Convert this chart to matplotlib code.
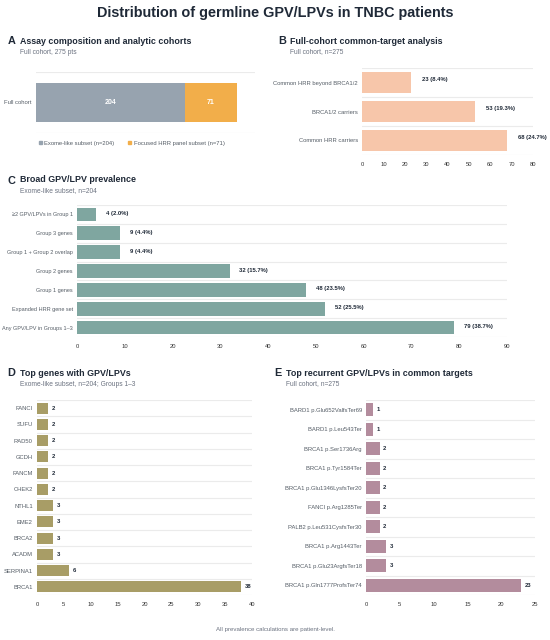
import matplotlib
matplotlib.use("Agg")
import matplotlib.pyplot as plt
from matplotlib.patches import Patch

plt.rcParams['font.family'] = ['Liberation Sans', 'DejaVu Sans']

# panel A
cohortLabel = ["Full cohort"]
exomeN = [204]
panelN = [71]

# panel B
bLabels = ["Common HRR carriers", "BRCA1/2 carriers", "Common HRR beyond BRCA1/2"]
bValues = [68, 53, 23]
bPct = [24.7, 19.3, 8.4]

# panel C
cLabels = ["Any GPV/LPV in Groups 1\u20133", "Expanded HRR gene set", "Group 1 genes",
           "Group 2 genes", "Group 1 + Group 2 overlap", "Group 3 genes",
           "\u22652 GPV/LPVs in Group 1"]
cValues = [79, 52, 48, 32, 9, 9, 4]
cPct = [38.7, 25.5, 23.5, 15.7, 4.4, 4.4, 2.0]

# panel D
dGenes = ["BRCA1", "SERPINA1", "ACADM", "BRCA2", "EME2", "NTHL1",
          "CHEK2", "FANCM", "GCDH", "RAD50", "SUFU", "FANCI"]
dValues = [38, 6, 3, 3, 3, 3, 2, 2, 2, 2, 2, 2]

# panel E
eVariants = ["BRCA1 p.Gln1777ProfsTer74", "BRCA1 p.Glu23ArgfsTer18", "BRCA1 p.Arg1443Ter",
             "PALB2 p.Leu531CysfsTer30", "FANCI p.Arg1285Ter", "BRCA1 p.Glu1346LysfsTer20",
             "BRCA1 p.Tyr1584Ter", "BRCA1 p.Ser1736Arg", "BARD1 p.Leu543Ter",
             "BARD1 p.Glu652ValfsTer69"]
eValues = [23, 3, 3, 2, 2, 2, 2, 2, 1, 1]

GREY_TXT = "#555d66"
DARK = "#1f2937"
GRID = "#ebebeb"
TICK = 4.2
VAL = 4.2

W, H = 550.0, 640.0


def px(x, y):
    return x / W, 1 - y / H


def axRect(l, t, r, b):
    return [l / W, 1 - b / H, (r - l) / W, (b - t) / H]


def styleAx(ax, n, xmax, ticks):
    ax.set_xlim(0, xmax)
    ax.set_ylim(-0.5, n - 0.5)
    for s in ax.spines.values():
        s.set_visible(False)
    for i in range(n + 1):
        ax.axhline(i - 0.5, color=GRID, lw=0.8, zorder=0)
    ax.set_xticks(ticks)
    ax.tick_params(axis='both', length=0, labelsize=TICK, colors=GREY_TXT, pad=3)
    ax.tick_params(axis='x', labelcolor="#333333", pad=5)


def header(x, y, letter, title, sub):
    fig.text(*px(x, y + 0.5), letter, fontsize=7.8, fontweight='bold', color=DARK, va='center')
    fig.text(*px(x + 12.5, y), title, fontsize=6.4, fontweight='bold', color=DARK, va='center')
    fig.text(*px(x + 12.5, y + 11), sub, fontsize=4.8, color="#6b7280", va='center')


fig = plt.figure(figsize=(5.5, 6.4), dpi=100)
fig.text(0.5, 1 - 13 / H, "Distribution of germline GPV/LPVs in TNBC patients",
         ha='center', va='center', fontsize=10.4, fontweight='bold', color=DARK)

# A
axA = fig.add_axes(axRect(36, 72, 255, 133))
axA.barh(cohortLabel, exomeN, height=0.65, color="#97a3af")
axA.barh(cohortLabel, panelN, left=exomeN, height=0.65, color="#f2ae4a")
axA.text(exomeN[0] / 2, 0, str(exomeN[0]), ha='center', va='center', color='white',
         fontsize=5, fontweight='bold')
axA.text(exomeN[0] + panelN[0] / 2, 0, str(panelN[0]), ha='center', va='center',
         color='white', fontsize=5, fontweight='bold')
axA.set_xlim(0, 300)
axA.set_ylim(-0.5, 0.5)
for s in axA.spines.values():
    s.set_visible(False)
axA.axhline(0.5, color=GRID, lw=0.8)
axA.axhline(-0.5, color=GRID, lw=0.8)
axA.set_xticks([])
axA.tick_params(axis='y', length=0, labelsize=TICK, colors=GREY_TXT, pad=3)
axA.legend(handles=[Patch(color="#97a3af", label="Exome-like subset (n=204)"),
                    Patch(color="#f2ae4a", label="Focused HRR panel subset (n=71)")],
           loc='upper left', bbox_to_anchor=(-0.01, -0.04), ncol=2, frameon=False,
           fontsize=TICK, handlelength=0.5, handleheight=0.5, handletextpad=0.4,
           columnspacing=2.4, labelcolor=GREY_TXT)
header(8, 41, "A", "Assay composition and analytic cohorts", "Full cohort, 275 pts")

# B
axB = fig.add_axes(axRect(362, 68, 533, 155))
yB = range(len(bLabels))
axB.barh(yB, bValues, height=0.72, color="#f7c6aa")
axB.set_yticks(list(yB), bLabels)
for i, (v, p) in enumerate(zip(bValues, bPct)):
    axB.text(v + 5, i + 0.12, f"{v} ({p}%)", va='center', fontsize=VAL,
             fontweight='bold', color=DARK)
styleAx(axB, len(bLabels), 80, range(0, 81, 10))
header(278, 41, "B", "Full-cohort common-target analysis", "Full cohort, n=275")

# C
axC = fig.add_axes(axRect(77, 205, 507, 337))
yC = range(len(cLabels))
axC.barh(yC, cValues, height=0.72, color="#7fa6a0")
axC.set_yticks(list(yC), cLabels)
for i, (v, p) in enumerate(zip(cValues, cPct)):
    axC.text(v + 2, i + 0.05, f"{v} ({p}%)", va='center', fontsize=VAL,
             fontweight='bold', color=DARK)
styleAx(axC, len(cLabels), 90, range(0, 91, 10))
axC.tick_params(axis='y', labelsize=4.0)
header(7, 180, "C", "Broad GPV/LPV prevalence", "Exome-like subset, n=204")

# D
axD = fig.add_axes(axRect(37, 400, 252, 595))
yD = range(len(dGenes))
axD.barh(yD, dValues, height=0.68, color="#a89d66")
axD.set_yticks(list(yD), dGenes)
for i, v in enumerate(dValues):
    axD.text(v + 0.7, i, str(v), va='center', fontsize=VAL, fontweight='bold', color=DARK)
styleAx(axD, len(dGenes), 40, range(0, 41, 5))
header(7, 373, "D", "Top genes with GPV/LPVs", "Exome-like subset, n=204; Groups 1\u20133")

# E
axE = fig.add_axes(axRect(366, 400, 535, 595))
yE = range(len(eVariants))
axE.barh(yE, eValues, height=0.68, color="#b38c9d")
axE.set_yticks(list(yE), eVariants)
for i, v in enumerate(eValues):
    axE.text(v + 0.5, i, str(v), va='center', fontsize=VAL, fontweight='bold', color=DARK)
styleAx(axE, len(eVariants), 25, range(0, 26, 5))
header(274, 373, "E", "Top recurrent GPV/LPVs in common targets", "Full cohort, n=275")

fig.text(0.5, 1 - 630 / H, "All prevalence calculations are patient-level.",
         ha='center', va='center', fontsize=4.4, color="#6b7280")

fig.savefig("out.png", dpi=100)
